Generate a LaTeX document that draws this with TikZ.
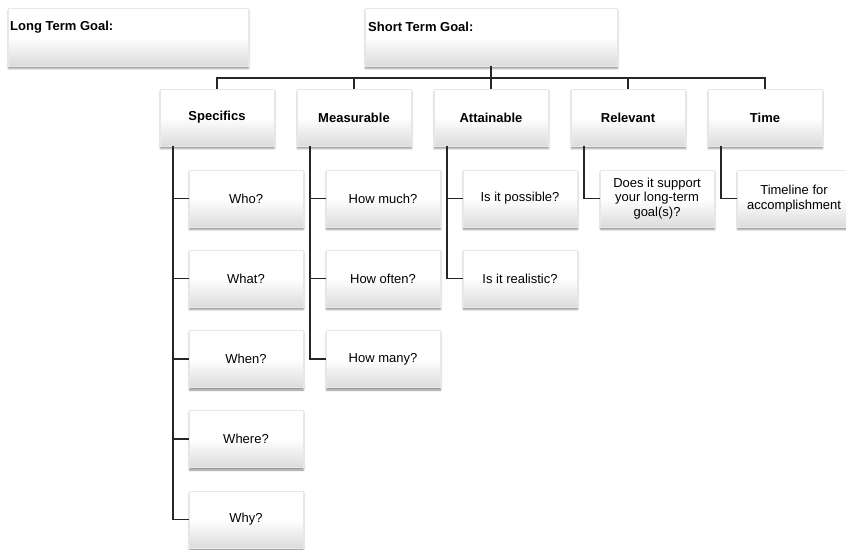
\documentclass[tikz,border=0pt]{standalone}
\usepackage{fontspec}
\setmainfont{Liberation Sans}
\usetikzlibrary{shadows.blur}
\begin{document}
\begin{tikzpicture}[x=1pt,y=-1pt,
  box/.style={draw=black!9, line width=0.4pt, rectangle, top color=white, bottom color=black!14, middle color=white,
    blur shadow={shadow xshift=0.5pt, shadow yshift=-2.5pt, shadow blur radius=1.8pt, shadow opacity=45},
    minimum width=114pt, minimum height=57pt, inner sep=1pt, align=center,
    font=\fontsize{13}{14.5}\selectfont},
  topbox/.style={box, minimum height=58pt},
  midbox/.style={box, font=\fontsize{13}{14.5}\selectfont\bfseries},
  lbl/.style={anchor=west, inner sep=0pt, font=\fontsize{13}{14.5}\selectfont\bfseries},
  conn/.style={draw=black!85, line width=1.2pt}
]
\useasboundingbox (0,0) rectangle (846,549);
% top level
\node[topbox, minimum width=240pt] (ltg) at (128,37) {};
\node[lbl] (ltgt) at (10,27) {Long Term Goal:};
\node[topbox, minimum width=252pt] (stg) at (491,37) {};
\node[lbl] (stgt) at (368,27) {Short Term Goal:};
% level 2
\node[midbox] (spec) at (217,117.5) {Specifics};
\node[midbox] (meas) at (354,117.5) {Measurable};
\node[midbox] (att)  at (491,117.5) {Attainable};
\node[midbox] (rel)  at (628,117.5) {Relevant};
\node[midbox] (time) at (765,117.5) {Time};
% children
\node[box] (who)   at (246,198.5) {Who?};
\node[box] (what)  at (246,278.5) {What?};
\node[box] (when)  at (246,359) {When?};
\node[box] (where) at (246,439) {Where?};
\node[box] (why)   at (246,519.5) {Why?};
\node[box] (hmuch) at (383,198.5) {How much?};
\node[box] (hoft)  at (383,278.5) {How often?};
\node[box] (hmany) at (383,359) {How many?};
\node[box] (poss)  at (520,198.5) {Is it possible?};
\node[box] (real)  at (520,278.5) {Is it realistic?};
\node[box] (supp)  at (657,198.5) {Does it support\\your long-term\\goal(s)?};
\node[box] (tl)    at (794,198.5) {Timeline for\\accomplishment};
% connectors
\coordinate (bar) at (491,78);
\draw[conn] (stg.south) -- (bar);
\draw[conn] (bar) -| (spec.north);
\draw[conn] (bar) -| (meas.north);
\draw[conn] (bar) -- (att.north);
\draw[conn] (bar) -| (rel.north);
\draw[conn] (bar) -| (time.north);
\foreach \c in {who,what,when,where,why}
  \draw[conn] ([xshift=-44pt]spec.south) |- (\c.west);
\foreach \c in {hmuch,hoft,hmany}
  \draw[conn] ([xshift=-44pt]meas.south) |- (\c.west);
\foreach \c in {poss,real}
  \draw[conn] ([xshift=-44pt]att.south) |- (\c.west);
\draw[conn] ([xshift=-44pt]rel.south) |- (supp.west);
\draw[conn] ([xshift=-44pt]time.south) |- (tl.west);
\end{tikzpicture}
\end{document}
